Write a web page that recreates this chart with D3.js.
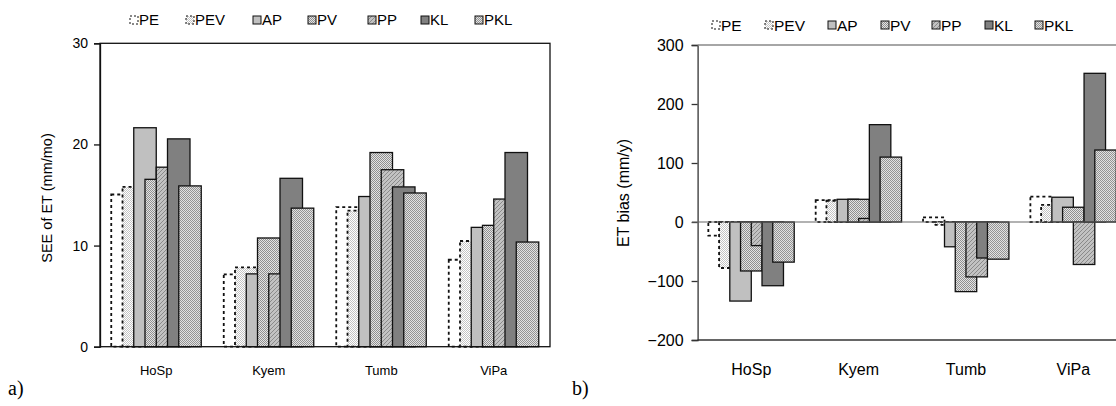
<!DOCTYPE html>
<html>
<head>
<meta charset="utf-8">
<script src="https://cdn.jsdelivr.net/npm/d3@7"></script>
<style>
  body { margin: 0; background: #fff; }
  svg { display: block; font-family: "Liberation Sans", Arial, sans-serif; }
</style>
</head>
<body>
<div id="chart"></div>
<script>
// data
var categories = ["HoSp", "Kyem", "Tumb", "ViPa"];
var seriesNames = ["PE", "PEV", "AP", "PV", "PP", "KL", "PKL"];

// a) SEE of ET (mm/mo), one array per series, in category order
var seePE  = [15.05, 7.15, 13.8, 8.6];
var seePEV = [15.8, 7.85, 13.45, 10.45];
var seeAP  = [21.65, 7.2, 14.85, 11.8];
var seePV  = [16.55, 10.75, 19.2, 12.0];
var seePP  = [17.75, 7.2, 17.5, 14.6];
var seeKL  = [20.55, 16.65, 15.8, 19.2];
var seePKL = [15.9, 13.7, 15.2, 10.35];

// b) ET bias (mm/y)
var biasPE  = [-23, 37, 8, 43];
var biasPEV = [-78, 36, -5, 29];
var biasAP  = [-134, 38.5, -42, 42];
var biasPV  = [-83, 38.5, -118, 25];
var biasPP  = [-40, 6, -93, -72];
var biasKL  = [-108, 165, -61, 252];
var biasPKL = [-68, 110, -63, 122];

var seeTicks = [0, 10, 20, 30];
var biasTicks = [-200, -100, 0, 100, 200, 300];

var seeData = [seePE, seePEV, seeAP, seePV, seePP, seeKL, seePKL];
var biasData = [biasPE, biasPEV, biasAP, biasPV, biasPP, biasKL, biasPKL];

var W = 1116, H = 406;

var svg = d3.select("#chart").append("svg")
  .attr("width", W)
  .attr("height", H);

// fill patterns, Excel style
var defs = svg.append("defs");

function dotPattern(id, bg, dot, size) {
  var p = defs.append("pattern")
    .attr("id", id)
    .attr("width", size)
    .attr("height", size)
    .attr("patternUnits", "userSpaceOnUse");
  p.append("rect").attr("width", size).attr("height", size).attr("fill", bg);
  p.append("rect").attr("width", 1).attr("height", 1).attr("fill", dot);
  p.append("rect").attr("x", size / 2).attr("y", size / 2).attr("width", 1).attr("height", 1).attr("fill", dot);
}
dotPattern("pat-pev", "#ffffff", "#c4c4c4", 2);
dotPattern("pat-pv", "#e4e4e4", "#909090", 2);
dotPattern("pat-pkl", "#e2e2e2", "#949494", 2);

// PP: fine diagonal texture, darker than PV
var diag = defs.append("pattern")
  .attr("id", "pat-pp")
  .attr("width", 4)
  .attr("height", 4)
  .attr("patternUnits", "userSpaceOnUse");
diag.append("rect").attr("width", 4).attr("height", 4).attr("fill", "#c2c2c2");
[[0, 3], [1, 2], [2, 1], [3, 0]].forEach(function (p) {
  diag.append("rect").attr("x", p[0]).attr("y", p[1]).attr("width", 1).attr("height", 1).attr("fill", "#8a8a8a");
});

var fills = ["#ffffff", "url(#pat-pev)", "#c0c0c0", "url(#pat-pv)", "url(#pat-pp)", "#808080", "url(#pat-pkl)"];
var dashes = ["3,3", "3,3", null, null, null, null, null];

function drawPanel(cfg) {
  var x = d3.scaleBand()
    .domain(categories)
    .range([cfg.left, cfg.right])
    .padding(0);

  var y = d3.scaleLinear()
    .domain(cfg.domain)
    .range([cfg.bottom, cfg.top]);

  // bar width = one fifth of a category, bars overlap by half
  var bw = x.bandwidth() / 5;
  var pos = d3.scalePoint()
    .domain(seriesNames)
    .range([bw / 2, bw / 2 + 3 * bw]);

  var g = svg.append("g");

  // bars, series by series so later ones sit on top
  seriesNames.forEach(function (name, si) {
    g.selectAll(".bar-" + name + "-" + cfg.id)
      .data(cfg.data[si])
      .enter().append("rect")
      .attr("x", function (d, i) { return x(categories[i]) + pos(name); })
      .attr("y", function (d) { return y(Math.max(0, d)); })
      .attr("width", bw)
      .attr("height", function (d) { return Math.abs(y(d) - y(0)); })
      .attr("fill", fills[si])
      .attr("stroke", "#111")
      .attr("stroke-width", dashes[si] ? 1.8 : 1.3)
      .attr("stroke-dasharray", dashes[si]);
  });

  // y axis
  var yAxis = d3.axisLeft(y)
    .tickValues(cfg.ticks)
    .tickSize(6)
    .tickPadding(cfg.tickPad)
    .tickFormat(d3.format("d"));
  var ya = svg.append("g")
    .attr("transform", "translate(" + cfg.left + ",0)")
    .call(yAxis);
  ya.select(".domain").attr("stroke", cfg.axisColor).attr("stroke-width", 1.3);
  ya.selectAll(".tick line").attr("stroke", cfg.axisColor).attr("stroke-width", 1.3);
  ya.selectAll(".tick text")
    .attr("fill", "#000")
    .style("font-size", cfg.tickFont + "px");

  // category labels
  svg.append("g").selectAll("text")
    .data(categories)
    .enter().append("text")
    .attr("x", function (d) { return x(d) + x.bandwidth() / 2; })
    .attr("y", cfg.catY)
    .attr("text-anchor", "middle")
    .style("font-size", cfg.catFont + "px")
    .text(function (d) { return d; });

  // axis title
  svg.append("text")
    .attr("transform", "translate(" + cfg.titleX + "," + cfg.titleY + ") rotate(-90)")
    .attr("text-anchor", "middle")
    .style("font-size", cfg.titleFont + "px")
    .text(cfg.title);

  // legend
  var lg = svg.append("g").selectAll("g")
    .data(seriesNames)
    .enter().append("g")
    .attr("transform", function (d, i) { return "translate(" + cfg.legendX[i] + "," + cfg.legendY + ")"; });
  lg.append("rect")
    .attr("x", 0)
    .attr("y", -4)
    .attr("width", 8)
    .attr("height", 8)
    .attr("fill", function (d, i) { return fills[i]; })
    .attr("stroke", "#111")
    .attr("stroke-width", 1)
    .attr("stroke-dasharray", function (d, i) { return dashes[i] ? "2,2" : null; });
  lg.append("text")
    .attr("x", 9)
    .attr("y", 0)
    .attr("dy", "0.36em")
    .style("font-size", cfg.legendFont + "px")
    .text(function (d) { return d; });

  // panel label
  svg.append("text")
    .attr("x", cfg.panelX)
    .attr("y", 395)
    .style("font-family", "'Liberation Serif', 'Times New Roman', serif")
    .style("font-size", "20px")
    .text(cfg.panel);

  return { x: x, y: y, g: g };
}

// a) left panel
var a = drawPanel({
  id: "a", left: 100, right: 550, top: 43.3, bottom: 346.7,
  domain: [0, 30], ticks: seeTicks, data: seeData,
  axisColor: "#111", tickPad: 6, tickFont: 14,
  catY: 375, catFont: 13,
  title: "SEE of ET (mm/mo)", titleX: 52, titleY: 198, titleFont: 14.5,
  legendX: [130, 186, 253, 308, 368, 421, 475], legendY: 20, legendFont: 15,
  panel: "a)", panelX: 8
});
// box around the plot area
svg.append("rect")
  .attr("x", 100).attr("y", a.y(30))
  .attr("width", 450).attr("height", a.y(0) - a.y(30))
  .attr("fill", "none")
  .attr("stroke", "#111")
  .attr("stroke-width", 1.3);

// b) right panel
var b = drawPanel({
  id: "b", left: 697.6, right: 1127, top: 45, bottom: 340,
  domain: [-200, 300], ticks: biasTicks, data: biasData,
  axisColor: "#333", tickPad: 8, tickFont: 16,
  catY: 375, catFont: 16,
  title: "ET bias (mm/y)", titleX: 629, titleY: 193, titleFont: 16,
  legendX: [712, 765, 828, 881, 932, 985, 1035], legendY: 25, legendFont: 15.5,
  panel: "b)", panelX: 572
});
// top and bottom border, zero line
svg.append("line")
  .attr("x1", 697.6).attr("x2", 1127)
  .attr("y1", b.y(300)).attr("y2", b.y(300))
  .attr("stroke", "#888").attr("stroke-width", 1.3);
svg.append("line")
  .attr("x1", 697.6).attr("x2", 1127)
  .attr("y1", b.y(-200)).attr("y2", b.y(-200))
  .attr("stroke", "#333").attr("stroke-width", 1.3);
svg.append("line")
  .attr("x1", 692).attr("x2", 1127)
  .attr("y1", b.y(0)).attr("y2", b.y(0))
  .attr("stroke", "#666").attr("stroke-width", 1.2);
</script>
</body>
</html>
